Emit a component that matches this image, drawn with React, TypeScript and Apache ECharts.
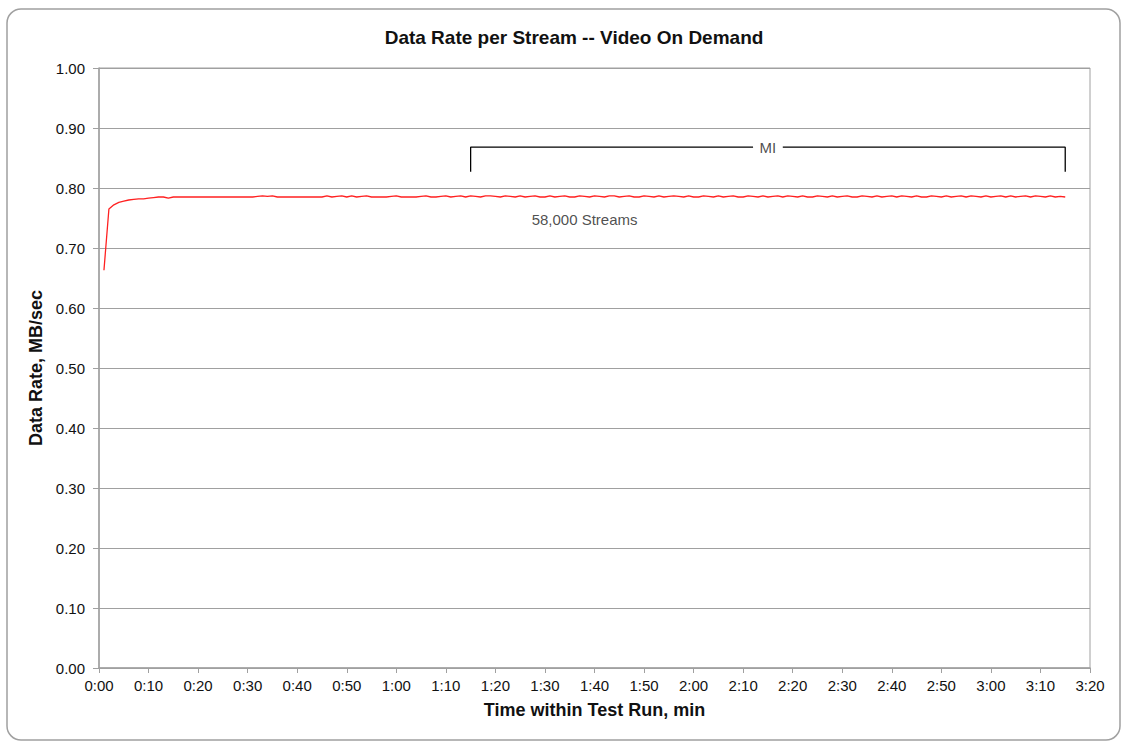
import React, { useEffect, useRef } from "react";
import * as echarts from "echarts";

const title = "Data Rate per Stream -- Video On Demand";
const xAxisName = "Time within Test Run, min";
const yAxisName = "Data Rate, MB/sec";
const seriesLabel = "58,000 Streams";
const miLabel = "MI";

// seconds within test run
const timeSec: number[] = Array.from({ length: 195 }, (_, i) => i + 1);
// data rate per stream, MB/sec (one per second)
const dataRate: number[] = [
  0.663, 0.765, 0.772, 0.776, 0.778, 0.780, 0.781, 0.782, 0.782, 0.783,
  0.784, 0.785, 0.785, 0.783, 0.785, 0.785, 0.785, 0.785, 0.785, 0.785,
  0.785, 0.785, 0.785, 0.785, 0.785, 0.785, 0.785, 0.785, 0.785, 0.785,
  0.785, 0.786, 0.787, 0.786, 0.787, 0.785, 0.785, 0.785, 0.785, 0.785,
  0.785, 0.785, 0.785, 0.785, 0.785, 0.787, 0.785, 0.786, 0.787, 0.785,
  0.787, 0.785, 0.786, 0.787, 0.785, 0.785, 0.785, 0.785, 0.786, 0.787,
  0.785, 0.785, 0.785, 0.785, 0.786, 0.787, 0.785, 0.785, 0.786, 0.787,
  0.785, 0.786, 0.787, 0.785, 0.787, 0.786, 0.785, 0.787, 0.787, 0.786,
  0.785, 0.787, 0.786, 0.785, 0.787, 0.785, 0.786, 0.787, 0.785, 0.785,
  0.787, 0.785, 0.786, 0.787, 0.785, 0.785, 0.787, 0.786, 0.785, 0.787,
  0.786, 0.785, 0.787, 0.787, 0.785, 0.786, 0.787, 0.785, 0.785, 0.787,
  0.786, 0.785, 0.787, 0.785, 0.786, 0.787, 0.786, 0.785, 0.787, 0.785,
  0.785, 0.787, 0.786, 0.785, 0.787, 0.785, 0.786, 0.787, 0.785, 0.785,
  0.787, 0.786, 0.785, 0.787, 0.785, 0.786, 0.787, 0.785, 0.787, 0.786,
  0.785, 0.787, 0.785, 0.785, 0.787, 0.786, 0.785, 0.787, 0.785, 0.786,
  0.787, 0.785, 0.785, 0.787, 0.786, 0.785, 0.787, 0.785, 0.786, 0.787,
  0.785, 0.787, 0.786, 0.785, 0.787, 0.785, 0.785, 0.787, 0.786, 0.785,
  0.787, 0.785, 0.786, 0.787, 0.785, 0.787, 0.786, 0.785, 0.787, 0.785,
  0.786, 0.787, 0.785, 0.787, 0.785, 0.786, 0.787, 0.785, 0.787, 0.786,
  0.785, 0.787, 0.785, 0.786, 0.785,
];

// MI bracket (seconds, MB/sec)
const miStart = 75;
const miEnd = 195;
const miTop = 0.868;
const miBottom = 0.827;
const miGapStart = 132;
const miGapEnd = 138;
const miLabelPos: [number, number] = [135, 0.868];
const streamsLabelPos: [number, number] = [98, 0.748];

const fmtTime = (v: number) =>
  `${Math.floor(v / 60)}:${String(Math.round(v % 60)).padStart(2, "0")}`;

export default function App() {
  const ref = useRef<HTMLDivElement>(null);
  useEffect(() => {
    if (!ref.current) return;
    const chart = echarts.init(ref.current, null, { renderer: "svg" });
    const font = "Liberation Sans, Arial, sans-serif";
    chart.setOption({
      animation: false,
      backgroundColor: "#fff",
      textStyle: { fontFamily: font },
      title: {
        text: title,
        left: 569,
        top: 23,
        textAlign: "center",
        textStyle: { fontSize: 19, fontWeight: "bold", color: "#111", fontFamily: font },
      },
      graphic: [
        {
          type: "rect",
          shape: { x: 7, y: 9, width: 1113, height: 731, r: 14 },
          style: { fill: "none", stroke: "#a0a0a0", lineWidth: 1.5 },
          silent: true,
          z: 100,
        },
      ],
      grid: {
        left: 99,
        right: 32,
        top: 68,
        bottom: 75,
        show: true,
        borderColor: "#a0a0a0",
        borderWidth: 1,
      },
      xAxis: {
        type: "value",
        min: 0,
        max: 200,
        interval: 10,
        name: xAxisName,
        nameLocation: "middle",
        nameGap: 33,
        nameTextStyle: { fontSize: 18, fontWeight: "bold", color: "#111", fontFamily: font },
        axisLine: { show: true, lineStyle: { color: "#a0a0a0", width: 1.5 } },
        axisTick: { show: true, inside: false, length: 5, lineStyle: { color: "#a0a0a0" } },
        axisLabel: { formatter: fmtTime, fontSize: 15, color: "#111", margin: 10, fontFamily: font },
        splitLine: { show: false },
      },
      yAxis: {
        type: "value",
        min: 0,
        max: 1,
        interval: 0.1,
        name: yAxisName,
        nameLocation: "middle",
        nameGap: 48,
        nameTextStyle: { fontSize: 18, fontWeight: "bold", color: "#111", fontFamily: font },
        axisLine: { show: true, lineStyle: { color: "#a0a0a0", width: 1.5 } },
        axisTick: { show: true, inside: false, length: 6, lineStyle: { color: "#a0a0a0" } },
        axisLabel: {
          formatter: (v: number) => v.toFixed(2),
          fontSize: 15,
          color: "#111",
          margin: 14,
          fontFamily: font,
        },
        splitLine: { show: true, lineStyle: { color: "#a0a0a0", width: 1.2 } },
      },
      series: [
        {
          type: "line",
          data: timeSec.map((t, i) => [t, dataRate[i]]),
          symbol: "none",
          lineStyle: { color: "#ff2020", width: 1.3 },
          silent: true,
        },
        {
          type: "line",
          data: [
            [miStart, miBottom],
            [miStart, miTop],
            [miGapStart, miTop],
          ],
          symbol: "none",
          lineStyle: { color: "#000", width: 1.3 },
          silent: true,
        },
        {
          type: "line",
          data: [
            [miGapEnd, miTop],
            [miEnd, miTop],
            [miEnd, miBottom],
          ],
          symbol: "none",
          lineStyle: { color: "#000", width: 1.3 },
          silent: true,
        },
        {
          type: "scatter",
          data: [miLabelPos],
          symbolSize: 1,
          itemStyle: { color: "rgba(0,0,0,0)" },
          silent: true,
          label: {
            show: true,
            position: "inside",
            formatter: miLabel,
            fontSize: 15,
            color: "#222",
            fontFamily: font,
          },
        },
        {
          type: "scatter",
          data: [streamsLabelPos],
          symbolSize: 1,
          itemStyle: { color: "rgba(0,0,0,0)" },
          silent: true,
          label: {
            show: true,
            position: "inside",
            formatter: seriesLabel,
            fontSize: 15,
            color: "#222",
            fontFamily: font,
          },
        },
      ],
    });
    return () => chart.dispose();
  }, []);
  return (
    <div
      ref={ref}
      style={{ position: "fixed", left: 0, top: 0, width: 1122, height: 743 }}
    />
  );
}
